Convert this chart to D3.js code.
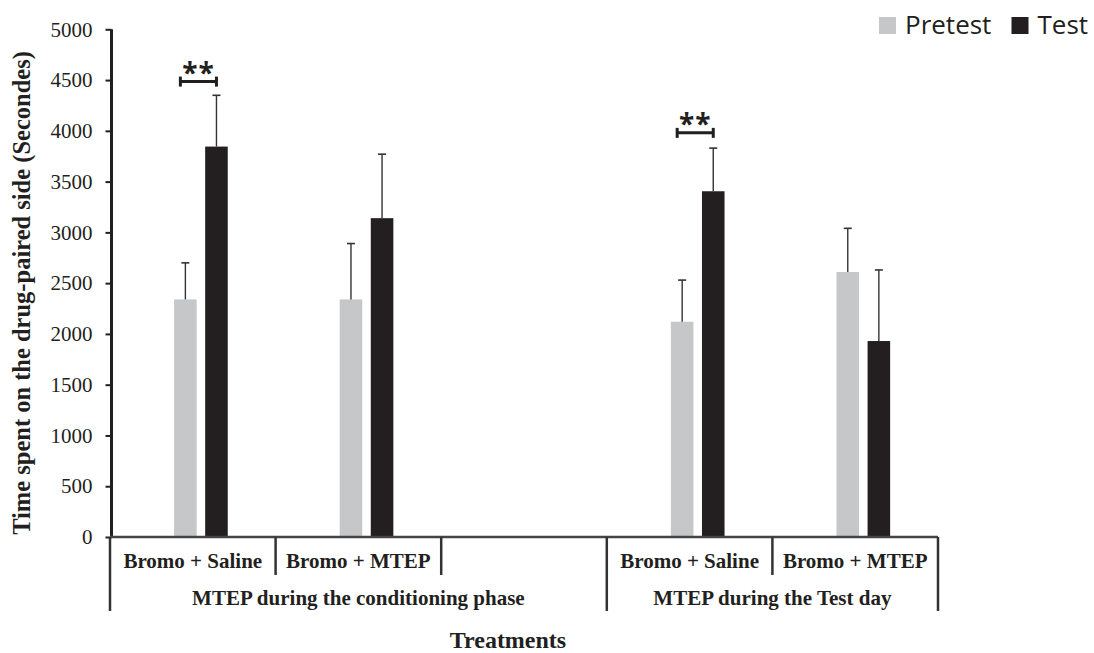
<!DOCTYPE html>
<html>
<head>
<meta charset="utf-8">
<script src="https://cdn.jsdelivr.net/npm/d3@7"></script>
<style>
  body { margin: 0; background: #fff; }
  svg { display: block; }
</style>
</head>
<body>
<div id="chart"></div>
<script>
// data
const categories = ['Bromo + Saline', 'Bromo + MTEP', '', 'Bromo + Saline', 'Bromo + MTEP'];
const phases = ['MTEP during the conditioning phase', 'MTEP during the Test day'];
const phaseSpan = [[0, 3], [3, 5]];          // category index range for each phase
const series = ['Pretest', 'Test'];
const pretest = [2340, 2340, null, 2120, 2610];
const pretestErr = [360, 550, null, 410, 430];
const test = [3845, 3140, null, 3405, 1930];
const testErr = [505, 630, null, 425, 700];
const yTicks = [0, 500, 1000, 1500, 2000, 2500, 3000, 3500, 4000, 4500, 5000];
const signif = [{cat: 0, level: 4485, label: '**'}, {cat: 3, level: 3980, label: '**'}];

const colors = {Pretest: '#c6c7c9', Test: '#231f20'};

const width = 1094, height = 653;
const svg = d3.select('#chart').append('svg').attr('width', width).attr('height', height);

const x0 = d3.scaleBand().domain(d3.range(categories.length)).range([110, 938]);
const bw = x0.bandwidth();
const x1 = d3.scaleBand().domain(series).range([0.387 * bw, 0.711 * bw]).paddingInner(0.274);
const y = d3.scaleLinear().domain([0, 5000]).range([537, 29.3]);

const rows = categories.map((c, i) => ({i, Pretest: pretest[i], Test: test[i],
  errPretest: pretestErr[i], errTest: testErr[i]}));

// bars
const groups = svg.append('g').selectAll('g').data(rows.filter(d => d.Pretest != null))
  .join('g').attr('transform', d => `translate(${x0(d.i)},0)`);

groups.selectAll('rect').data(d => series.map(s => ({s, v: d[s]})))
  .join('rect')
  .attr('x', d => x1(d.s)).attr('width', x1.bandwidth())
  .attr('y', d => y(d.v)).attr('height', d => y(0) - y(d.v))
  .attr('fill', d => colors[d.s]);

// upper error bars
const errs = groups.selectAll('g.err').data(d => series.map(s => ({s, v: d[s], e: d['err' + s]})))
  .join('g').attr('class', 'err')
  .attr('transform', d => `translate(${x1(d.s) + x1.bandwidth() / 2},0)`);
errs.append('line').attr('x1', 0).attr('x2', 0)
  .attr('y1', d => y(d.v)).attr('y2', d => y(d.v + d.e))
  .attr('stroke', '#333').attr('stroke-width', 1.4);
errs.append('line').attr('x1', -4).attr('x2', 4)
  .attr('y1', d => y(d.v + d.e)).attr('y2', d => y(d.v + d.e))
  .attr('stroke', '#333').attr('stroke-width', 1.6);

// significance brackets
const sg = svg.append('g').selectAll('g').data(signif).join('g')
  .attr('transform', d => `translate(${x0(d.cat)},${y(d.level)})`);
const bx0 = x1('Pretest') + x1.bandwidth() / 2 - 5;
const bx1 = x1('Test') + x1.bandwidth() / 2;
sg.append('line').attr('x1', bx0).attr('x2', bx1).attr('y1', 0).attr('y2', 0)
  .attr('stroke', '#231f20').attr('stroke-width', 3);
sg.append('line').attr('x1', bx0).attr('x2', bx0).attr('y1', -5).attr('y2', 5)
  .attr('stroke', '#231f20').attr('stroke-width', 3);
sg.append('line').attr('x1', bx1).attr('x2', bx1).attr('y1', -5).attr('y2', 5)
  .attr('stroke', '#231f20').attr('stroke-width', 3);
sg.append('text').attr('x', (bx0 + bx1) / 2).attr('y', 1)
  .attr('text-anchor', 'middle')
  .style('font-family', '"Open Sans", sans-serif').style('font-size', '28px')
  .style('font-weight', 'bold').style('letter-spacing', '1px')
  .attr('fill', '#231f20').text(d => d.label);

// y axis
const yAxis = d3.axisLeft(y).tickValues(yTicks).tickFormat(d3.format('d'))
  .tickSize(6).tickPadding(13);
const yg = svg.append('g').attr('transform', 'translate(111.5,0)').call(yAxis);
yg.select('.domain').attr('stroke', '#231f20').attr('stroke-width', 3)
  .attr('d', `M0,${y(5000)}V${y(0)}`);
yg.selectAll('.tick line').attr('stroke', '#231f20').attr('stroke-width', 2);
yg.selectAll('.tick text').attr('fill', '#231f20')
  .style('font-family', '"Liberation Serif", "Times New Roman", serif').style('font-size', '21px');

// x axis baseline
svg.append('line').attr('x1', x0.range()[0]).attr('x2', x0.range()[1])
  .attr('y1', y(0)).attr('y2', y(0)).attr('stroke', '#444').attr('stroke-width', 2.5);

// category frame
const bounds = d3.range(categories.length + 1).map(i => i < categories.length ? x0(i) : x0.range()[1]);
const longB = new Set([0, 3, 5]);
svg.append('g').selectAll('line').data(bounds).join('line')
  .attr('x1', d => d).attr('x2', d => d)
  .attr('y1', y(0)).attr('y2', (d, i) => longB.has(i) ? 611 : 575)
  .attr('stroke', '#333').attr('stroke-width', 2.5);

const serif = '"Liberation Serif", "Times New Roman", serif';
svg.append('g').selectAll('text').data(categories).join('text')
  .attr('x', (d, i) => x0(i) + bw / 2).attr('y', 568)
  .attr('text-anchor', 'middle').attr('fill', '#231f20')
  .style('font-family', serif).style('font-weight', 'bold').style('font-size', '21px')
  .text(d => d);

svg.append('g').selectAll('text').data(phases).join('text')
  .attr('x', (d, i) => (x0(phaseSpan[i][0]) + bounds[phaseSpan[i][1]]) / 2).attr('y', 605)
  .attr('text-anchor', 'middle').attr('fill', '#231f20')
  .style('font-family', serif).style('font-weight', 'bold').style('font-size', '21px')
  .text(d => d);

// axis titles
svg.append('text').attr('x', 508).attr('y', 648).attr('text-anchor', 'middle')
  .attr('fill', '#231f20')
  .style('font-family', serif).style('font-weight', 'bold').style('font-size', '24px')
  .text('Treatments');
svg.append('text').attr('transform', 'translate(30,293) rotate(-90)').attr('text-anchor', 'middle')
  .attr('fill', '#231f20')
  .style('font-family', serif).style('font-weight', 'bold').style('font-size', '24.5px')
  .text('Time spent on the drug-paired side (Secondes)');

// legend
const legend = svg.append('g').attr('transform', 'translate(879,17)');
const legX = [0, 132.5];
const li = legend.selectAll('g').data(series).join('g')
  .attr('transform', (d, i) => `translate(${legX[i]},0)`);
li.append('rect').attr('width', 17).attr('height', 17).attr('fill', d => colors[d]);
li.append('text').attr('x', 26).attr('y', 17)
  .attr('fill', '#231f20')
  .style('font-family', '"Open Sans", sans-serif').style('font-size', '26px')
  .text(d => d);
</script>
</body>
</html>
